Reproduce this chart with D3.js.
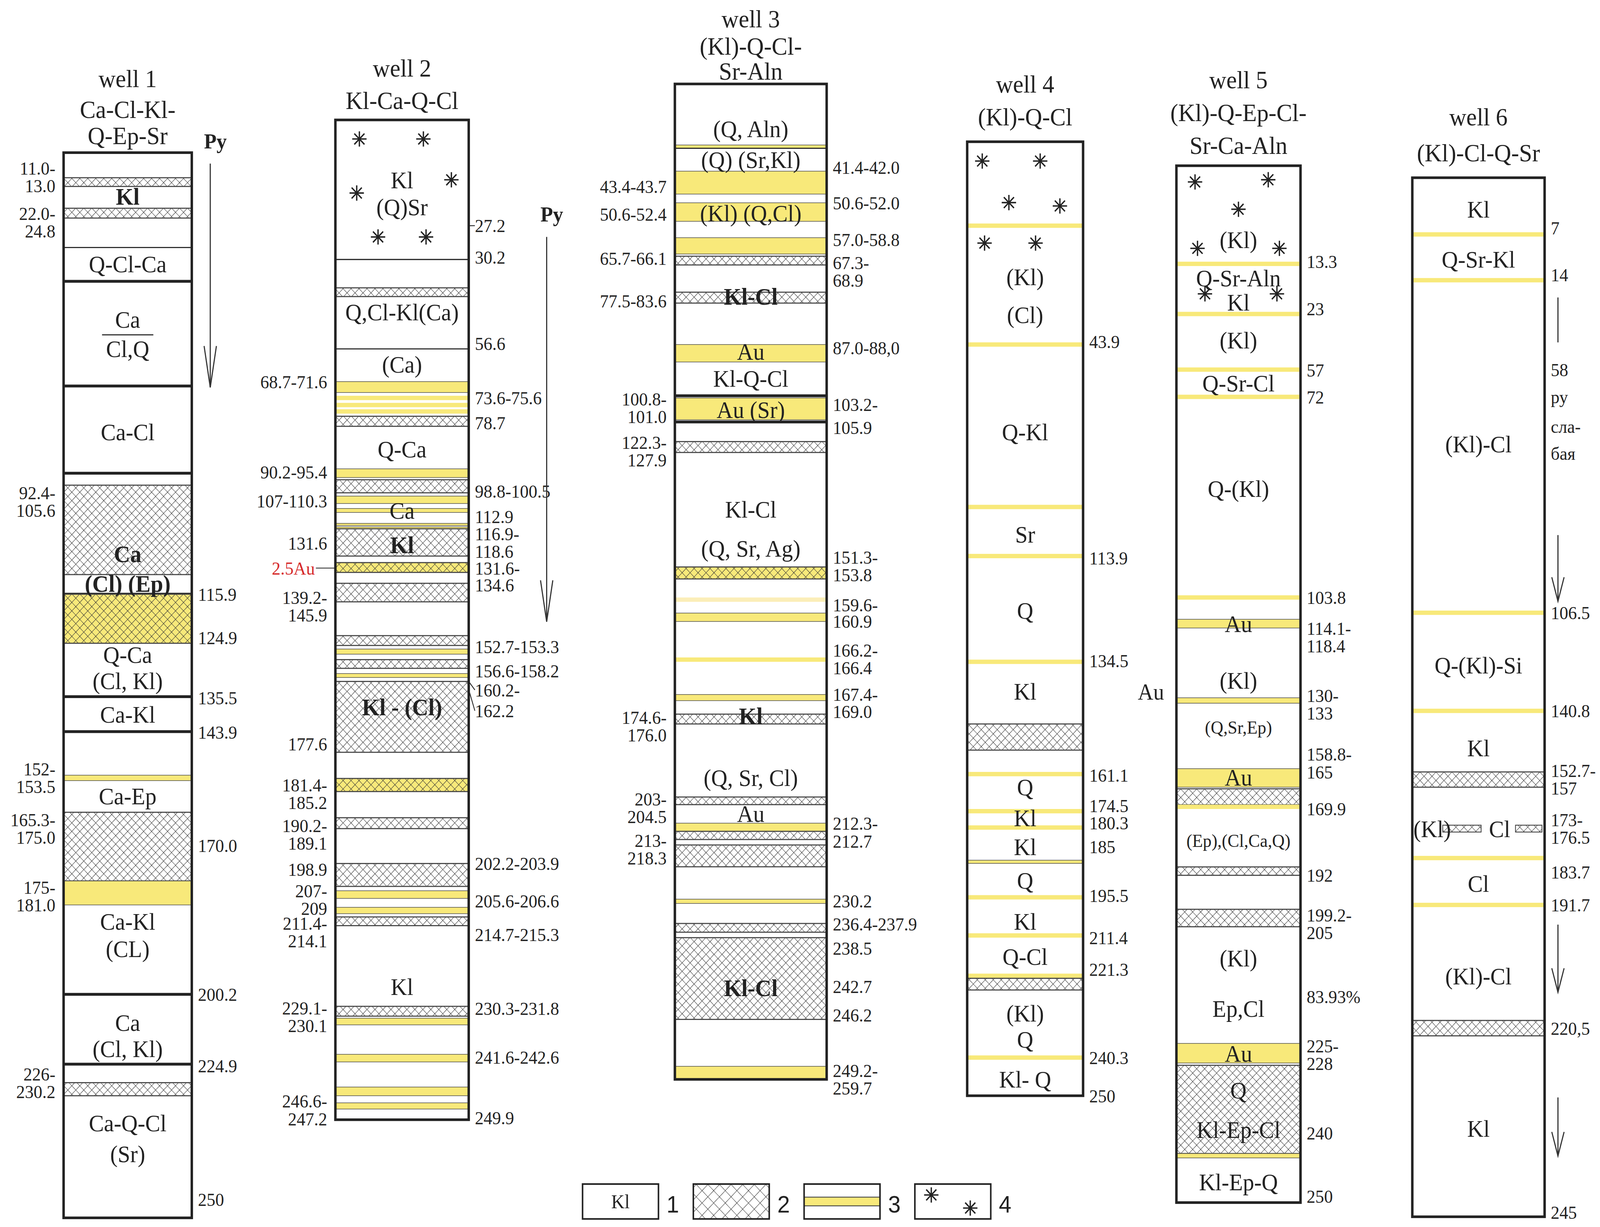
<!DOCTYPE html>
<html><head><meta charset="utf-8">
<script src="https://cdn.jsdelivr.net/npm/d3@7"></script>
<style>html,body{margin:0;padding:0;background:#fff;overflow:hidden}svg{display:block;width:100vw;height:100vh}</style></head>
<body><svg id="c"></svg>
<script>
// ---------- DATA ----------
const wellNames = ["well 1","well 2","well 3","well 4","well 5","well 6"];
const wellFormulas = [["Ca-Cl-Kl-","Q-Ep-Sr"],["Kl-Ca-Q-Cl"],["(Kl)-Q-Cl-","Sr-Aln"],["(Kl)-Q-Cl"],["(Kl)-Q-Ep-Cl-","Sr-Ca-Aln"],["(Kl)-Cl-Q-Sr"]];
// depth anchors of the schematic (non-linear) depth axis of each column
const depthAnchors = [
 [0,11,13,22,24.8,33,45,72,90,92.4,105.6,115.9,124.9,135.5,143.9,152,153.5,165.3,175,181,200.2,224.9,226,230.2,250],
 [0,27.2,30.2,40,43,56.6,68.7,71.6,73.6,75.6,78.7,90.2,95.4,98.8,100.5,107,110.3,112.9,116.9,118.6,125,131.6,134.6,145.9,152.7,153.3,155,156.6,158.2,160.2,177.6,181.4,185.2,189.1,190.2,198.9,203.9,205.6,206.6,209,211.4,215.3,229.1,230.1,231.8,241.6,242.6,246.6,247.2,249.9],
 [0,30,41.4,42,43.4,43.7,50.6,52.4,57,58.8,65.7,66.1,77.5,83.6,87,88,95,100.8,103.2,105.9,122.3,127.9,151.3,153.8,159.6,160.9,166.2,167.4,169,174.6,203,204.5,212.3,212.7,213,218.3,230.2,236.4,237.9,238.5,246.2,249.2,259.7],
 [0,20,43.9,80,113.9,134.5,150,156,161.1,174.5,180.3,185,195.5,211.4,221.3,223,240.3,250],
 [0,13.3,23,57,72,103.8,114.1,118.4,130,133,158.8,165,169.9,192,199.2,205,225,228,240,250],
 [0,7,14,106.5,140.8,152.7,157,173,176.5,183.7,191.7,220.5,245]
];
// layers: h=hatched, y=yellow, yh=yellow+hatched, yl=thin yellow line, l=thin line, L=thick line
const layers1 = [["h",11,13],["h",22,24.8],["l",33],["L",45],["L",72],["L",90],["h",92.4,105.6],["L",115.9],["yh",115.9,124.9],["L",135.5],["L",143.9],["y",152,153.5],["h",165.3,175],["y",175,181],["L",200.2],["L",224.9],["h",226,230.2]];
const layers2 = [["l",30.2],["h",40,43],["l",56.6],["y",68.7,71.6],["yl",73.6],["yl",74.6],["yl",75.5],["h",76.5,78.7],["y",90.2,95.4],["h",98.8,100.5],["y",107,108.5],["y",109.5,110.3],["y",112.9,114],["y",115.5,116.9],["h",116.9,118.6],["yh",125,131.6],["h",134.6,145.9],["h",152.7,153.3],["y",154,155],["h",156.6,158.2],["y",159,159.6],["h",160.2,177.6],["yh",181.4,185.2],["h",189.1,190.2],["h",198.9,203.9],["y",205.6,206.6],["y",208,209],["h",211.4,215.3],["h",229.1,230.1],["y",230.5,231.8],["y",241.6,242.6],["y",246.6,247.2],["y",248,248.7]];
const layers3 = [["y",30,41.4],["l",41.4],["y",43.4,43.7],["y",50.6,52.4],["y",57,58.8],["h",65.7,66.1],["h",77.5,83.6],["y",87,88],["L",95],["y",100.8,103.2],["L",105.9],["h",122.3,127.9],["yh",151.3,153.8],["ylp",159.6],["y",160.4,160.9],["yl",166.2],["y",167.4,167.9],["h",169,174.6],["h",203,204.5],["y",212.3,212.5],["h",212.5,212.7],["h",213,218.3],["y",229,230.4],["h",236.4,237.9],["h",238.5,246.2],["y",249.2,259.7]];
const layers4 = [["yl",20],["yl",43.9],["yl",80],["yl",113.9],["yl",134.5],["h",150,156],["yl",161.1],["yl",174.5],["yl",180.3],["y",184.7,185.3],["yl",195.5],["yl",211.4],["yl",221.3],["h",221.6,223],["yl",240.3]];
const layers5 = [["yl",13.3],["yl",23],["yl",57],["yl",72],["yl",103.8],["y",114.1,118.4],["y",130,133],["y",158.8,165],["h",165.4,169.4],["yl",169.9],["h",190.2,192.6],["h",199.2,205],["y",225,228],["h",228.3,240],["y",240,240.9]];
const layers6 = [["yl",7],["yl",14],["yl",106.5],["yl",140.8],["h",152.7,157],["hp",174.2,175.3,0.23,0.52],["hp",174.2,175.3,0.78,0.98],["yl",183.7],["yl",191.7],["h",218.7,221.5]];
const allLayers = [layers1,layers2,layers3,layers4,layers5,layers6];
// labels inside columns: [text, depth, bold, xFraction, size]
const inside = [
 [["Kl",17,1],["Q-Cl-Ca",38.8],["Ca",54.8],["Cl,Q",62.4],["Ca-Cl",81.5],["Ca",102.5,1],["(Cl) (Ep)",110.2,1],["Q-Ca",127.1],["(Cl, Kl)",132.3],["Ca-Kl",139.7],["Ca-Ep",159.2],["Ca-Kl",184.5],["(CL)",190.4],["Ca",210.2],["(Cl, Kl)",219.5],["Ca-Q-Cl",234.6],["(Sr)",239.6]],
 [["Kl",15.4],["(Q)Sr",22.4],["Q,Cl-Kl(Ca)",47],["(Ca)",62.3],["Q-Ca",84.9],["Ca",109.9],["Kl",117.9,1],["Kl - (Cl)",166.4,1],["Kl",225.7]],
 [["(Q, Aln)",22],["(Q) (Sr,Kl)",41.7],["(Kl) (Q,Cl)",51.6],["Kl-Cl",79.9,1],["Au",87.4],["Kl-Q-Cl",91.4],["Au (Sr)",102.1],["Kl-Cl",139.5],["(Q, Sr, Ag)",147.5],["Kl",170,1],["(Q, Sr, Cl)",195.4],["Au",208.2],["Kl-Cl",243.2,1]],
 [["(Kl)",30.3],["(Cl)",37.9],["Q-Kl",63.3],["Sr",98.8],["Q",124.5],["Kl",141.8],["Q",165.8],["Kl",176.8],["Kl",182.9],["Q",190.4],["Kl",205.5],["Q-Cl",216.6],["(Kl)",228.9],["Q",235.6],["Kl- Q",245.8]],
 [["(Kl)",10],["Q-Sr-Aln",16],["Kl",20.7],["(Kl)",39],["Q-Sr-Cl",64.4],["Q-(Kl)",86.5],["Au",116.2],["(Kl)",127.1],["(Q,Sr,Ep)",142.5,0,0.5,"s"],["Au",161.7],["(Ep),(Cl,Ca,Q)",181.3,0,0.5,"s"],["(Kl)",210.4],["Ep,Cl",219],["Au",226.5],["Q",231.6],["Kl-Ep-Cl",236.8],["Kl-Ep-Q",245.8]],
 [["Kl",3.9],["Q-Sr-Kl",10.8],["(Kl)-Cl",59.5],["Q-(Kl)-Si",124.8],["Kl",148],["(Kl)",174.75,0,0.15],["Cl",174.75,0,0.66],["Cl",188],["(Kl)-Cl",208.3],["Kl",233.5]]
];
// right-side depth labels: [text lines, depth]
const rightLabels = [
 [["115.9",115.9],["124.9",123.9],["135.5",135.8],["143.9",144],["170.0",170],["200.2",200.2],["224.9",225],["250",247]],
 [["27.2",27.2],["30.2",30],["56.6",55.2],["73.6-75.6",73.6],["78.7",77.9],["98.8-100.5",100.3],["112.9",111.3],["116.9-",117.2],["118.6",118.3],["131.6-",128.7],["134.6",135.7],["152.7-153.3",153.5],["156.6-158.2",158.6],["160.2-",162.3],["162.2",167.4],["202.2-203.9",198.9],["205.6-206.6",207],["214.7-215.3",216.8],["230.3-231.8",229.3],["241.6-242.6",242],["249.9",249.7]],
 [["41.4-42.0",41.9],["50.6-52.0",50.6],["57.0-58.8",57.2],["67.3-|68.9",68.8],["87.0-88,0",87.2],["103.2-",101.5],["105.9",110.5],["151.3-|153.8",151.1],["159.6-",159.9],["160.9",160.9],["166.2-|166.4",166.1],["167.4-",167.4],["169.0",168.8],["212.3-",212.3],["212.7",212.8],["230.2",229.6],["236.4-237.9",236.5],["238.5",239.5],["242.7",243.1],["246.2",245.8],["249.2-|259.7",259.7]],
 [["43.9",43.3],["113.9",114.3],["134.5",134.3],["161.1",161.5],["174.5",172.5],["180.3",178.7],["185",182.9],["195.5",195],["211.4",211.9],["221.3",219.7],["240.3",240.3],["250",250]],
 [["13.3",13],["23",22],["57",57.2],["72",72],["103.8",103.8],["114.1-|118.4",119.9],["130-|133",133.4],["158.8-|165",156.6],["169.9",170.6],["192",192.6],["199.2-|205",204],["83.93%",217],["225-|228",226.7],["240",237.3],["250",248.7]],
 [["7",6.2],["14",13.2],["58",38.9],["ру",46.4],["сла-",54.6],["бая",62.2],["106.5",106.5],["140.8",140.8],["152.7-|157",154.8],["173-|176.5",174.75],["183.7",186.1],["191.7",191.7],["220,5",220.5],["245",244.4]]
];
const leftLabels = [
 [["11.0-|13.0",10.6],["22.0-|24.8",26],["92.4-|105.6",94.8],["152-|153.5",152.7],["165.3-|175.0",167.6],["175-|181.0",178.8],["226-|230.2",226]],
 [["68.7-71.6",68.8],["90.2-95.4",92.2],["107-110.3",108],["131.6",117.8],["2.5Au",128.7,"red"],["139.2-|145.9",146.8],["177.6",175.5],["181.4-|185.2",185.5],["190.2-|189.1",191.6],["198.9",200.2],["207-|209",206.8],["211.4-|214.1",216.4],["229.1-|230.1",230.2],["246.6-|247.2",248.8]],
 [["43.4-43.7",43.6],["50.6-52.4",51.7],["65.7-66.1",65.8],["77.5-83.6",82.4],["100.8-|101.0",101.9],["122.3-|127.9",127.3],["174.6-|176.0",175.4],["203-|204.5",205.9],["213-|218.3",214]],
 [],
 [["Au",129,"big"]],
 []
];
// asterisks (depth, xFraction)
const stars = [[],
 [[4.9,0.18],[4.9,0.66],[15.4,0.87],[18.8,0.16],[28.2,0.32],[28.2,0.68]],[],
 [[4.6,0.13],[4.6,0.63],[14.5,0.36],[15.3,0.8],[23.5,0.15],[23.5,0.59]],
 [[2.2,0.15],[1.9,0.74],[5.9,0.5],[11.2,0.17],[11.2,0.83],[19.1,0.23],[19.1,0.81]],[]];
// Py arrows: [well, fromDepth, toDepth, label, head]
const arrows = [[0,4.8,72.3,"Py",1],[1,28.2,149.9,"Py",1],[5,18.8,31.3,"",0],[5,84.9,103.3,"",1],[5,196.3,212.1,"",1],[5,229.5,237.1,"",1]];
const legendItems = ["1","2","3","4"];

// ---------- LAYOUT ----------
const layout = [
 {x0:62,x1:187,yTop:140,yBot:1117,tY:[72,100,124],ax:18},
 {x0:327,x1:457,yTop:110,yBot:1027,tY:[62,92],ax:76},
 {x0:658,x1:806,yTop:77,yBot:990,tY:[17,42,65]},
 {x0:943,x1:1056,yTop:130,yBot:1005,tY:[77,107]},
 {x0:1147,x1:1268,yTop:152,yBot:1103,tY:[73,103,133]},
 {x0:1377,x1:1506,yTop:163,yBot:1116,tY:[107,140],ax:13}
];
const anchorY = [
 [140,163,171,191,200,227,258,354,434,445,527,545,590,639,671,711,716,745,808,830,912,976,993,1005,1117],
 [110,207,238,264,272,320,350,360,365,378,391,430,438,440,452,455,470,480,485,510,516,525,535,552,583,592,600,605,613,625,690,714,726,750,760,792,813,817,824,838,841,849,923,932,940,967,974,997,1005,1027],
 [77,133,136,157,157,178,186,203,218,233,235,243,268,278,316,332,363,365,385,387,405,415,520,531,550,570,605,637,655,664,731,738,755,770,775,795,828,847,855,860,935,978,990],
 [130,207,316,465,510,607,664,688,710,744,759,791,823,858,895,908,970,1005],
 [152,242,288,339,364,548,568,576,640,645,705,722,740,800,834,850,957,975,1058,1103],
 [163,215,257,562,652,708,722,750,770,787,830,943,1116]
];

const VW=1560,VH=3141*1560/4354;
const YEL="#f8e97a", FONT="Liberation Serif, Times New Roman, serif";
const svg=d3.select("#c").attr("viewBox",`0 0 ${VW} ${VH}`).attr("preserveAspectRatio","none");
svg.append("rect").attr("width",VW).attr("height",VH).attr("fill","#fff");
const defs=svg.append("defs");
function mkPat(id,s){
 const p=defs.append("pattern").attr("id",id).attr("width",s).attr("height",s)
  .attr("patternUnits","userSpaceOnUse").attr("patternTransform","rotate(45)");
 p.append("path").attr("d",`M0,0H${s}M0,0V${s}`).attr("stroke","#333").attr("stroke-width",0.8).attr("fill","none");
}
mkPat("hatch",5.5); mkPat("hatchL",8);

function starPath(g,cx,cy,r){
  const d=[0,45,90,135].map(a=>{const t=a*Math.PI/180;return `M${cx-r*Math.cos(t)},${cy-r*Math.sin(t)}L${cx+r*Math.cos(t)},${cy+r*Math.sin(t)}`}).join("");
  g.append("path").attr("d",d).attr("stroke","#222").attr("stroke-width",1.3);
}
function multi(g,x,y,txt,anchor,size,color){
  const lines=txt.split("|"),lh=size*0.95;
  lines.forEach((t,i)=>g.append("text").attr("x",x).attr("y",y+(i-(lines.length-1)/2)*lh).attr("dy","0.35em")
   .attr("text-anchor",anchor).attr("font-family",FONT).attr("font-size",size).attr("fill",color||"#222").text(t));
}

layout.forEach((L,i)=>{
  const g=svg.append("g");
  const y=d3.scaleLinear().domain(depthAnchors[i]).range(anchorY[i]);
  const w=L.x1-L.x0;
  [wellNames[i],...wellFormulas[i]].forEach((t,k)=>g.append("text").attr("x",(L.x0+L.x1)/2).attr("y",L.tY[k]).attr("dy","0.35em")
    .attr("text-anchor","middle").attr("font-family",FONT).attr("font-size",23).attr("fill","#222").text(t));
  g.append("rect").attr("x",L.x0).attr("y",L.yTop).attr("width",w).attr("height",L.yBot-L.yTop).attr("fill","#fff");
  allLayers[i].forEach(d=>{
    const t=d[0];
    if(t==="h"||t==="y"||t==="yh"){
      const yy=y(d[1]),hh=Math.max(2,y(d[2])-y(d[1]));
      if(t!=="h") g.append("rect").attr("x",L.x0).attr("y",yy).attr("width",w).attr("height",hh).attr("fill",YEL);
      if(t!=="y") g.append("rect").attr("x",L.x0).attr("y",yy).attr("width",w).attr("height",hh).attr("fill","url(#hatch)");
      g.append("rect").attr("x",L.x0).attr("y",yy).attr("width",w).attr("height",hh).attr("fill","none").attr("stroke","#444").attr("stroke-width",t==="y"?0.5:1);
    } else if(t==="hp"){
      const yy=y(d[1]),hh=y(d[2])-y(d[1]);
      g.append("rect").attr("x",L.x0+w*d[3]).attr("y",yy).attr("width",w*(d[4]-d[3])).attr("height",hh).attr("fill","url(#hatch)").attr("stroke","#444").attr("stroke-width",0.8);
    } else if(t==="yl"||t==="ylp"){
      g.append("rect").attr("x",L.x0).attr("y",y(d[1])-2).attr("width",w).attr("height",4).attr("fill",t==="ylp"?"#fbeeb8":YEL);
    } else {
      g.append("line").attr("x1",L.x0).attr("x2",L.x1).attr("y1",y(d[1])).attr("y2",y(d[1])).attr("stroke","#222").attr("stroke-width",t==="L"?2.6:1);
    }
  });
  g.append("rect").attr("x",L.x0).attr("y",L.yTop).attr("width",w).attr("height",L.yBot-L.yTop).attr("fill","none").attr("stroke","#222").attr("stroke-width",2.4);
  inside[i].forEach(d=>{
    g.append("text").attr("x",L.x0+w*(d[3]??0.5)).attr("y",y(d[1])).attr("dy","0.35em").attr("text-anchor","middle")
     .attr("font-family",FONT).attr("font-size",d[4]==="s"?17:22).attr("font-weight",d[2]?"bold":"normal").attr("fill","#222").text(d[0]);
  });
  if(i===0){
    g.append("line").attr("x1",L.x0+w*0.3).attr("x2",L.x0+w*0.7).attr("y1",y(58.8)).attr("y2",y(58.8)).attr("stroke","#222").attr("stroke-width",1);
  }
  stars[i].forEach(s=>starPath(g,L.x0+w*s[1],y(s[0]),7));
  rightLabels[i].forEach(d=>multi(g,L.x1+6,y(d[1]),d[0],"start",17));
  leftLabels[i].forEach(d=>{
    if(d[2]==="big") multi(g,L.x0-12,y(d[1]),d[0],"end",21);
    else multi(g,L.x0-(d[2]==="red"?20:8),y(d[1]),d[0],"end",17,d[2]==="red"?"#d62a2a":null);
    if(d[2]==="red") g.append("line").attr("x1",L.x0-19).attr("x2",L.x0).attr("y1",y(d[1])).attr("y2",y(d[1])).attr("stroke","#222").attr("stroke-width",0.8);
  });
  if(i===1){
    [[27.2,27.2],[160.2,162.3],[162.2,167.4]].forEach(p=>g.append("line").attr("x1",L.x1).attr("y1",y(p[0])).attr("x2",L.x1+6).attr("y2",y(p[1])).attr("stroke","#222").attr("stroke-width",0.8));
  }
});

arrows.forEach(a=>{
  const L=layout[a[0]];
  const y=d3.scaleLinear().domain(depthAnchors[a[0]]).range(anchorY[a[0]]);
  const x=L.x1+L.ax, y1=y(a[1]), y2=y(a[2]);
  svg.append("line").attr("x1",x).attr("x2",x).attr("y1",y1).attr("y2",y2).attr("stroke","#333").attr("stroke-width",1.1);
  if(a[4]) svg.append("path").attr("d",`M${x-6},${y2-(a[3]?38:22)}L${x},${y2}L${x+6},${y2-(a[3]?38:22)}`).attr("fill","none").attr("stroke","#333").attr("stroke-width",1.1);
  if(a[3]) svg.append("text").attr("x",x+5).attr("y",y1-14).attr("text-anchor","middle").attr("font-family",FONT).attr("font-weight","bold").attr("font-size",20).attr("fill","#222").text(a[3]);
});

const lx=d3.scaleBand().domain(legendItems).range([568,1000]).paddingInner(0);
const ly=1086, lh=32, lw=74;
legendItems.forEach((k,i)=>{
  const x0=lx(k);
  const g=svg.append("g");
  if(i===0){g.append("text").attr("x",x0+lw/2).attr("y",ly+lh/2).attr("dy","0.35em").attr("text-anchor","middle").attr("font-family",FONT).attr("font-size",18).attr("fill","#222").text("Kl");}
  if(i===1) g.append("rect").attr("x",x0).attr("y",ly).attr("width",lw).attr("height",lh).attr("fill","url(#hatchL)");
  if(i===2){g.append("rect").attr("x",x0).attr("y",ly+12).attr("width",lw).attr("height",8).attr("fill",YEL).attr("stroke","#444").attr("stroke-width",0.8);}
  if(i===3){starPath(g,x0+16,ly+10,7);starPath(g,x0+54,ly+22,7);}
  g.append("rect").attr("x",x0).attr("y",ly).attr("width",lw).attr("height",lh).attr("fill","none").attr("stroke","#222").attr("stroke-width",1.5);
  g.append("text").attr("x",x0+lw+14).attr("y",ly+lh-6).attr("text-anchor","middle").attr("font-family","Liberation Sans, Arial").attr("font-size",22).attr("fill","#222").text(k);
});
</script></body></html>
